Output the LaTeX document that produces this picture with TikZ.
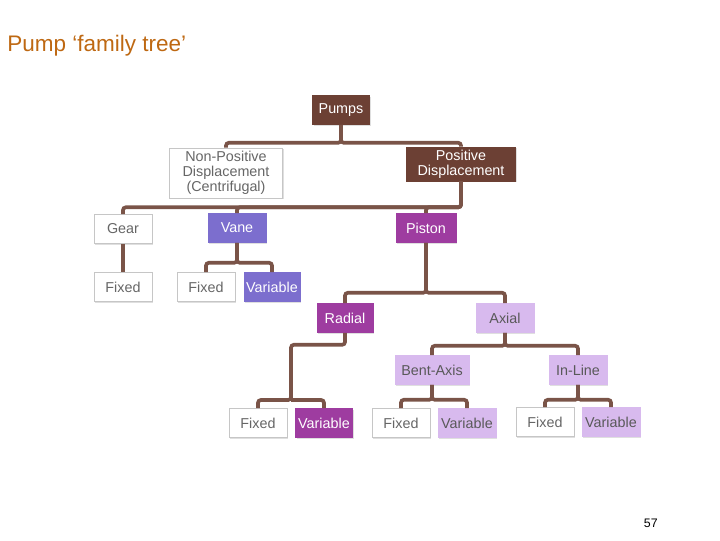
\documentclass[tikz,border=0pt]{standalone}
\usepackage{fontspec}
\setmainfont{Liberation Sans}
\usepackage{tikz}
\usetikzlibrary{shadows}
\definecolor{pumpbrown}{RGB}{108,64,52}
\definecolor{linkbrown}{RGB}{122,84,72}
\definecolor{vaneblue}{RGB}{124,110,206}
\definecolor{pistonpurple}{RGB}{158,60,160}
\definecolor{axiallilac}{RGB}{216,186,238}
\definecolor{titleorange}{RGB}{190,104,18}

\begin{document}
\begin{tikzpicture}[x=0.025cm,y=-0.025cm,
  box/.style={rectangle,draw=gray!45,fill=white,text=black!60,align=center,minimum width=1.45cm,minimum height=0.725cm,inner sep=1pt,font=\fontsize{10.2}{10.8}\selectfont,drop shadow={shadow xshift=1pt,shadow yshift=-1pt,opacity=0.25}},
  darkbox/.style={box,draw=pumpbrown,fill=pumpbrown,text=white},
  vanebox/.style={box,draw=vaneblue,fill=vaneblue,text=white},
  pistbox/.style={box,draw=pistonpurple,fill=pistonpurple,text=white},
  lilacbox/.style={box,draw=axiallilac,fill=axiallilac,text=black!65},
  link/.style={draw=linkbrown,line width=2.6pt,rounded corners=2pt}
]
\useasboundingbox (0,0) rectangle (720,540);
\node[anchor=base west,text=titleorange,font=\fontsize{16}{18}\selectfont,inner sep=0pt] (title) at (7,51) {Pump ‘family tree’};
\node[anchor=base east,font=\fontsize{8.8}{10}\selectfont,inner sep=0pt] (page) at (658,527) {57};

\node[darkbox,minimum width=1.425cm] (pumps) at (341,110) {Pumps};
\node[box,minimum width=2.825cm,minimum height=1.25cm] (nonpos) at (226,173) {Non-Positive\\Displacement\\(Centrifugal)};
\node[darkbox,minimum width=2.725cm,minimum height=0.85cm] (posdisp) at (461,164) {Positive\\Displacement};
\node[box] (gear) at (123,229) {Gear};
\node[vanebox] (vane) at (237,228) {Vane};
\node[pistbox,minimum width=1.5cm] (piston) at (426,228) {Piston};
\node[box] (gearfix) at (123,287) {Fixed};
\node[box] (vanefix) at (206,287) {Fixed};
\node[vanebox,minimum width=1.4cm] (vanevar) at (272,287) {Variable};
\node[pistbox,minimum width=1.4cm] (radial) at (345,318) {Radial};
\node[lilacbox] (axial) at (505,318) {Axial};
\node[lilacbox,minimum width=1.85cm] (bent) at (432,370) {Bent-Axis};
\node[lilacbox] (inline) at (578,370) {In-Line};
\node[box] (radfix) at (258,423) {Fixed};
\node[pistbox,minimum width=1.425cm] (radvar) at (324,423) {Variable};
\node[box] (bentfix) at (401,423) {Fixed};
\node[lilacbox] (bentvar) at (467,423) {Variable};
\node[box] (inlinefix) at (545,422) {Fixed};
\node[lilacbox] (inlinevar) at (611,422) {Variable};
\coordinate (radjog) at (291,400);

\draw[link] (pumps.south) -- ++(0,18) -| (nonpos.north);
\draw[link] (pumps.south) -- ++(0,18) -| (posdisp.north);
\draw[link] (posdisp.south) -- ++(0,26) -| (gear.north);
\draw[link] (posdisp.south) -- ++(0,26) -| (vane.north);
\draw[link] (posdisp.south) -- ++(0,26) -| (piston.north);
\draw[link] (gear.south) -- (gearfix.north);
\draw[link] (vane.south) -- ++(0,20) -| (vanefix.north);
\draw[link] (vane.south) -- ++(0,20) -| (vanevar.north);
\draw[link] (piston.south) -- ++(0,50) -| (radial.north);
\draw[link] (piston.south) -- ++(0,50) -| (axial.north);
\draw[link] (radial.south) -- ++(0,12) -| (radjog) -| (radfix.north);
\draw[link] (radjog) -| (radvar.north);
\draw[link] (axial.south) -- ++(0,13) -| (bent.north);
\draw[link] (axial.south) -- ++(0,13) -| (inline.north);
\draw[link] (bent.south) -- ++(0,15) -| (bentfix.north);
\draw[link] (bent.south) -- ++(0,15) -| (bentvar.north);
\draw[link] (inline.south) -- ++(0,15) -| (inlinefix.north);
\draw[link] (inline.south) -- ++(0,15) -| (inlinevar.north);
\end{tikzpicture}
\end{document}
